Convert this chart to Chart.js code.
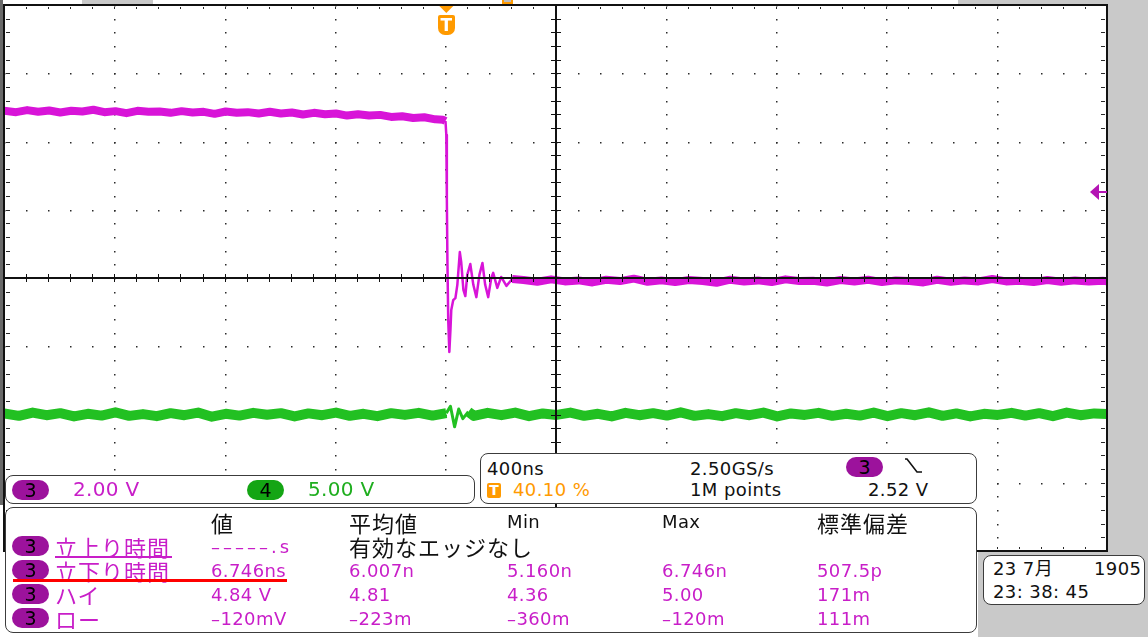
<!DOCTYPE html>
<html lang="ja">
<head>
<meta charset="utf-8">
<title>Scope capture</title>
<script src="https://cdn.jsdelivr.net/npm/chart.js@4.4.1/dist/chart.umd.min.js"></script>
<style>
  html, body { margin: 0; padding: 0; }
  body { width: 1148px; height: 637px; position: relative; overflow: hidden; background: #fff;
         font-family: "DejaVu Sans", "Noto Sans CJK JP", sans-serif; }
  #scope { position: absolute; left: 0; top: 0; }
  .abs { position: absolute; white-space: nowrap; line-height: 1; }
  .panel { position: absolute; box-sizing: border-box; border: 1px solid #3c3c3c; border-radius: 8px; background: #fff; }
  .gray { position: absolute; background: #c9c9c9; }
  .badge { position: absolute; width: 37px; height: 20px; border-radius: 10px; font-size: 19px; line-height: 20px; text-align: center; color: #000; }
  .b3 { background: #9c129c; }
  .b4 { background: #14a514; }
  .num { font-size: 18px; letter-spacing: 0.4px; }
  .big { font-size: 20px; letter-spacing: 0.3px; }
  .jp { font-family: "Noto Sans CJK JP", sans-serif; font-size: 22px; letter-spacing: 1px; }
  .dash { letter-spacing: 3px; }
  .mag { color: #c81ec8; }
  .grn { color: #1fae1f; }
  .org { color: #ff9a00; }
  .blk { color: #111; }
</style>
</head>
<body>
<canvas id="scope" width="1148" height="637"></canvas>

<!-- screen edges -->
<div class="gray" style="left:1108px;top:0;width:40px;height:637px"></div>
<div class="gray" style="left:978px;top:552px;width:170px;height:85px"></div>
<div class="gray" style="left:958px;top:0;width:190px;height:4px"></div>
<div class="gray" style="left:82px;top:0;width:71px;height:4px"></div>
<div style="position:absolute;left:0;top:0;width:3px;height:505px;background:#6a6a6a"></div>
<div style="position:absolute;left:502px;top:0;width:7px;height:2px;border:2px solid #ff9a00;border-top:0;background:#bbb"></div>

<!-- trigger position marker -->
<div id="trigT" class="abs" style="top:15px;width:17px;height:20px;background:#ff9a00;border-radius:2px 2px 7px 7px;color:#fff;font-size:17px;font-weight:bold;text-align:center;line-height:20px">T</div>

<!-- channel scale panel -->
<div class="panel" style="left:5px;top:475px;width:470px;height:29px"></div>
<div class="badge b3" style="left:12px;top:480px">3</div>
<span class="abs big mag" style="left:73px;top:479px">2.00 V</span>
<div class="badge b4" style="left:247px;top:480px">4</div>
<span class="abs big grn" style="left:308px;top:479px">5.00 V</span>

<!-- timebase / trigger panel -->
<div class="panel" style="left:480px;top:453px;width:497px;height:51px"></div>
<span class="abs num blk" style="left:487px;top:460px">400ns</span>
<span class="abs num blk" style="left:690px;top:460px">2.50GS/s</span>
<div class="badge b3" style="left:846px;top:457px">3</div>
<svg style="position:absolute;left:903px;top:457px" width="22" height="18">
  <polyline points="2,2 4,2 14,15 19,15" fill="none" stroke="#111" stroke-width="1.6"/>
</svg>
<div class="abs" style="left:487px;top:483px;width:14px;height:15px;background:#ff9a00;border-radius:2px;color:#fff;font-size:14px;font-weight:bold;text-align:center;line-height:15px">T</div>
<span class="abs num org" style="left:513px;top:481px">40.10 %</span>
<span class="abs num blk" style="left:690px;top:481px">1M points</span>
<span class="abs num blk" style="left:868px;top:481px">2.52 V</span>

<!-- measurement panel -->
<div class="panel" style="left:5px;top:507px;width:972px;height:126px"></div>

<!-- date panel -->
<div class="panel" style="left:983px;top:555px;width:162px;height:50px"></div>
<span class="abs num blk" style="left:993px;top:560px">23 7月</span>
<span class="abs num blk" style="left:1094px;top:560px">1905</span>
<span class="abs num blk" style="left:993px;top:583px">23: 38: 45</span>

<script>
// record settings
const recordStart = -1604;      // ns at left edge (trigger at 40.10 %)
const nsPerDiv = 400;
const ch3VoltsPerDiv = 2.00;
const ch4VoltsPerDiv = 5.00;
const ch4OffsetDiv = -2;
const triggerLevel = 2.52;

// channel 3 (magenta) - falling edge with ringing
const ch3Time = [-1604, -1560, -1520, -1480, -1440, -1400, -1360, -1320, -1280, -1240,
  -1200, -1160, -1120, -1080, -1040, -1000, -960, -920, -880, -840,
  -800, -760, -720, -680, -640, -600, -560, -520, -480, -440,
  -400, -360, -320, -280, -240, -200, -160, -120, -80, -40, -12, -3,
  0, 2, 4, 7, 11, 15, 18, 25, 33, 40, 49, 54, 62, 69, 76, 87, 98, 109,
  120, 131, 141, 152, 163, 170, 185, 199, 218, 239,
  280, 330, 380, 430, 480, 530, 580, 630, 680, 730,
  780, 830, 880, 930, 980, 1030, 1080, 1130, 1180, 1230,
  1280, 1330, 1380, 1430, 1480, 1530, 1580, 1630, 1680, 1730,
  1780, 1830, 1880, 1930, 1980, 2030, 2080, 2130, 2180, 2230,
  2280, 2330, 2380, 2396];
const ch3Volts = [4.90, 4.86, 4.92, 4.87, 4.91, 4.85, 4.90, 4.88, 4.93, 4.86,
  4.89, 4.83, 4.90, 4.87, 4.88, 4.84, 4.89, 4.85, 4.87, 4.81,
  4.88, 4.84, 4.86, 4.82, 4.87, 4.82, 4.85, 4.79, 4.84, 4.80,
  4.82, 4.76, 4.80, 4.76, 4.78, 4.72, 4.74, 4.69, 4.71, 4.65, 4.64, 4.60,
  4.19, 2.30, 0.53, -1.23, -2.17, -1.52, -0.94, -0.65, -0.59, -0.20, 0.76, 0.47, -0.35, -0.53, 0.09, 0.41, -0.20, -0.56,
  0.09, 0.44, -0.20, -0.56, 0.00, 0.15, -0.29, 0.03, -0.23, -0.03,
  -0.06, -0.11, -0.04, -0.10, -0.07, -0.13, -0.05, -0.09, -0.02, -0.11,
  -0.07, -0.12, -0.06, -0.09, -0.14, -0.05, -0.10, -0.07, -0.12, -0.04,
  -0.09, -0.08, -0.13, -0.06, -0.10, -0.05, -0.12, -0.07, -0.09, -0.13,
  -0.05, -0.11, -0.07, -0.10, -0.03, -0.10, -0.08, -0.12, -0.06, -0.11,
  -0.07, -0.10, -0.08, -0.10];

// channel 4 (green) - flat with a small glitch at the edge
const ch4Time = [-1604, -1550, -1500, -1450, -1400, -1350, -1300, -1250, -1200, -1150,
  -1100, -1050, -1000, -950, -900, -850, -800, -750, -700, -650,
  -600, -550, -500, -450, -400, -350, -300, -250, -200, -150, -100, -50,
  0, 15, 30, 45, 60, 80,
  100, 150, 200, 250, 300, 350, 400, 450, 500, 550,
  600, 650, 700, 750, 800, 850, 900, 950, 1000, 1050,
  1100, 1150, 1200, 1250, 1300, 1350, 1400, 1450, 1500, 1550,
  1600, 1650, 1700, 1750, 1800, 1850, 1900, 1950, 2000, 2050,
  2100, 2150, 2200, 2250, 2300, 2350, 2396];
const ch4Volts = [0.08, -0.10, 0.14, -0.05, 0.10, -0.14, 0.05, -0.08, 0.16, -0.10,
  0.03, -0.12, 0.10, -0.05, 0.14, -0.16, 0.05, -0.08, 0.12, -0.02,
  0.10, -0.14, 0.08, -0.05, 0.14, -0.10, 0.05, -0.12, 0.10, -0.03, 0.12, -0.08,
  0.10, 0.60, -0.90, 0.40, -0.30, 0.20,
  -0.10, 0.12, -0.05, 0.14, -0.12, 0.08, -0.03, 0.14, -0.10, 0.05,
  -0.14, 0.12, -0.05, 0.10, -0.08, 0.16, -0.10, 0.03, -0.12, 0.10,
  -0.05, 0.14, -0.14, 0.08, -0.03, 0.12, -0.10, 0.05, -0.08, 0.14,
  -0.12, 0.10, -0.05, 0.16, -0.10, 0.08, -0.14, 0.05, -0.03, 0.12,
  -0.08, 0.10, -0.12, 0.14, -0.05, 0.08, 0.03];

// measurement table
const measHeaders = ['値', '平均値', 'Min', 'Max', '標準偏差'];
const measNames = ['立上り時間', '立下り時間', 'ハイ', 'ロー'];
const measValue = ['–––––.s', '6.746ns', '4.84 V', '–120mV'];
const measMean = ['有効なエッジなし', '6.007n', '4.81', '–223m'];
const measMin = ['', '5.160n', '4.36', '–360m'];
const measMax = ['', '6.746n', '5.00', '–120m'];
const measStd = ['', '507.5p', '171m', '111m'];

const toPoints = (ts, vs) => ts.map((t, i) => ({ x: t, y: vs[i] }));

// thinner stroke where the trace moves fast (edge, ringing, glitch)
const fastWidth = (from, to, thin, thick) => ctx => {
    const t0 = ctx.p0.parsed.x, t1 = ctx.p1.parsed.x;
    return (t0 >= from && t1 <= to) ? thin : thick;
};

// dotted graticule, centre cross, border and markers
const graticule = {
    id: 'graticule',
    beforeDatasetsDraw(chart) {
        const { ctx, chartArea: a, scales: { x, y3 } } = chart;
        ctx.save();
        ctx.fillStyle = '#2a2a2a';
        // vertical division lines
        for (let k = 1; k < 10; k++) {
            if (k === 5) continue;
            const px = Math.round(x.getPixelForValue(recordStart + k * nsPerDiv));
            for (let j = 0; j <= 40; j++) {
                const py = Math.round(y3.getPixelForValue(-4 * ch3VoltsPerDiv + j * ch3VoltsPerDiv / 5));
                ctx.fillRect(px, py, 1.5, 1.5);
            }
        }
        // horizontal division lines
        for (let k = 1; k < 8; k++) {
            if (k === 4) continue;
            const py = Math.round(y3.getPixelForValue(-4 * ch3VoltsPerDiv + k * ch3VoltsPerDiv));
            for (let j = 0; j <= 50; j++) {
                const px = Math.round(x.getPixelForValue(recordStart + j * nsPerDiv / 5));
                ctx.fillRect(px, py, 1.5, 1.5);
            }
        }
        // minor ticks on the border
        for (let j = 1; j < 50; j++) {
            const px = Math.round(x.getPixelForValue(recordStart + j * nsPerDiv / 5));
            ctx.fillRect(px, a.top + 2, 1, 2);
            ctx.fillRect(px, a.bottom - 4, 1, 2);
        }
        for (let j = 1; j < 40; j++) {
            const py = Math.round(y3.getPixelForValue(-4 * ch3VoltsPerDiv + j * ch3VoltsPerDiv / 5));
            ctx.fillRect(a.left + 2, py, 4, 1);
            ctx.fillRect(a.right - 6, py, 4, 1);
        }
        ctx.restore();
    },
    afterDatasetsDraw(chart) {
        const { ctx, chartArea: a, scales: { x, y3 } } = chart;
        ctx.save();
        ctx.fillStyle = '#111';
        const xc = Math.round(x.getPixelForValue(recordStart + 5 * nsPerDiv));
        const yc = Math.round(y3.getPixelForValue(0));
        ctx.fillRect(a.left, yc - 1, a.right - a.left, 2);
        ctx.fillRect(xc - 1, a.top, 2, a.bottom - a.top);
        for (let j = 1; j < 50; j++) {
            const px = Math.round(x.getPixelForValue(recordStart + j * nsPerDiv / 5));
            ctx.fillRect(px, yc - 4, 1, 8);
        }
        for (let j = 1; j < 40; j++) {
            const py = Math.round(y3.getPixelForValue(-4 * ch3VoltsPerDiv + j * ch3VoltsPerDiv / 5));
            ctx.fillRect(xc - 5, py, 10, 1);
        }
        // border
        ctx.fillRect(a.left - 1, a.top - 1, a.right - a.left + 2, 2);
        ctx.fillRect(a.left - 1, a.top - 1, 2, a.bottom - a.top + 2);
        ctx.fillRect(a.right - 1, a.top - 1, 2, a.bottom - a.top + 2);
        ctx.fillRect(a.left - 1, a.bottom - 1, a.right - a.left + 2, 2);

        // trigger position arrow
        const tx = x.getPixelForValue(0);
        ctx.fillStyle = '#ff9a00';
        ctx.beginPath();
        ctx.moveTo(tx - 7, a.top + 1);
        ctx.lineTo(tx + 7, a.top + 1);
        ctx.lineTo(tx, a.top + 8);
        ctx.closePath();
        ctx.fill();

        // trigger level arrow
        const ly = y3.getPixelForValue(triggerLevel);
        ctx.fillStyle = '#b414b4';
        ctx.beginPath();
        ctx.moveTo(a.right - 17, ly);
        ctx.lineTo(a.right - 8, ly - 8);
        ctx.lineTo(a.right - 8, ly + 8);
        ctx.closePath();
        ctx.fill();
        ctx.fillRect(a.right - 9, ly - 1, 9, 2);
        ctx.restore();
    }
};

const chart = new Chart(document.getElementById('scope').getContext('2d'), {
    type: 'line',
    data: {
        datasets: [
            { data: toPoints(ch3Time, ch3Volts), yAxisID: 'y3', borderColor: '#d814d8', borderWidth: 8,
              segment: { borderWidth: fastWidth(-3, 260, 2.5, 8) } },
            { data: toPoints(ch4Time, ch4Volts), yAxisID: 'y4', borderColor: '#22c022', borderWidth: 10,
              segment: { borderWidth: fastWidth(0, 80, 3, 10) } }
        ]
    },
    options: {
        responsive: false,
        animation: false,
        devicePixelRatio: 1,
        layout: { padding: { left: 4, top: 5, right: 41, bottom: 86 } },
        elements: { point: { radius: 0 }, line: { tension: 0, borderJoinStyle: 'round' } },
        plugins: { legend: { display: false }, tooltip: { enabled: false } },
        scales: {
            x: { type: 'linear', display: false, min: recordStart, max: recordStart + 10 * nsPerDiv },
            y3: { type: 'linear', display: false, min: -4 * ch3VoltsPerDiv, max: 4 * ch3VoltsPerDiv },
            y4: { type: 'linear', display: false,
                  min: (-4 - ch4OffsetDiv) * ch4VoltsPerDiv, max: (4 - ch4OffsetDiv) * ch4VoltsPerDiv }
        }
    },
    plugins: [graticule]
});

document.getElementById('trigT').style.left = (chart.scales.x.getPixelForValue(0) - 8.5) + 'px';

// measurement panel text
function addText(text, left, top, cls) {
    const s = document.createElement('span');
    s.className = 'abs ' + cls;
    s.style.left = left + 'px';
    s.style.top = top + 'px';
    s.textContent = text;
    document.body.appendChild(s);
    return s;
}
const isJp = t => /[\u3040-\u9fff]/.test(t);
const colX = [211, 349, 507, 662, 817];
const rowTop = [538, 562, 586, 610];
const rowTopJp = [535, 559, 583, 607];

measHeaders.forEach((h, i) => {
    if (isJp(h)) addText(h, colX[i], 511, 'jp blk');
    else addText(h, colX[i], 513, 'num blk');
});
measNames.forEach((name, r) => {
    const b = document.createElement('div');
    b.className = 'badge b3';
    b.style.left = '12px';
    b.style.top = (rowTop[r] - 2) + 'px';
    b.textContent = '3';
    document.body.appendChild(b);
    addText(name, 55, rowTopJp[r], 'jp mag');
    const cells = [measValue[r], measMean[r], measMin[r], measMax[r], measStd[r]];
    cells.forEach((c, i) => {
        if (!c) return;
        if (isJp(c)) addText(c, colX[i], rowTopJp[r], 'jp blk');
        else addText(c, colX[i], rowTop[r], 'num mag' + (c.startsWith('–––') ? ' dash' : ''));
    });
});
// link underlines on the edge-time names, and the red highlight line
[556, 580].forEach(y => {
    const u = document.createElement('div');
    u.style.cssText = 'position:absolute;left:55px;width:117px;height:2px;background:#c81ec8;top:' + y + 'px';
    document.body.appendChild(u);
});
const red = document.createElement('div');
red.style.cssText = 'position:absolute;left:13px;top:579px;width:274px;height:3px;background:#ff0000';
document.body.appendChild(red);
</script>
</body>
</html>
